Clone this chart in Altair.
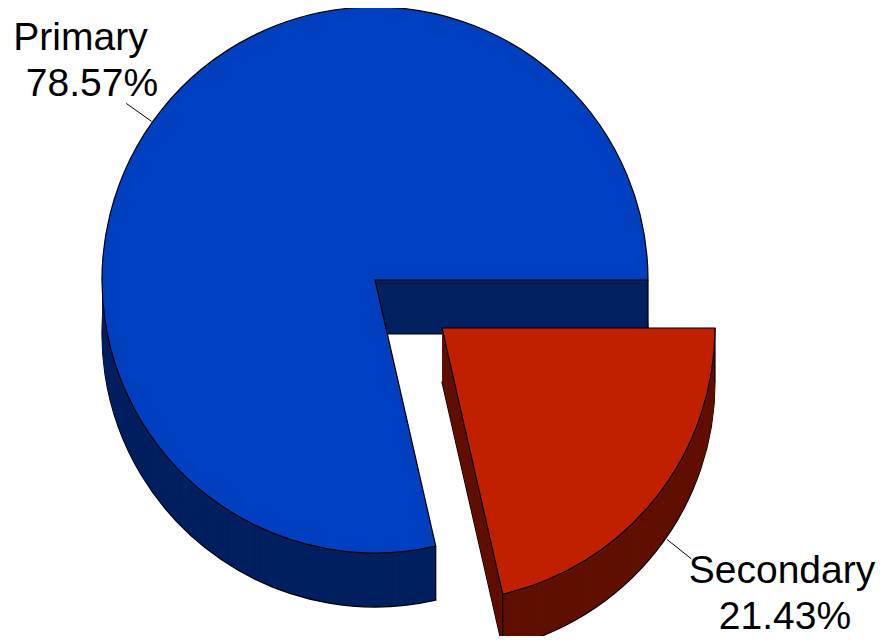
import math
import altair as alt
import pandas as pd

# ---- data ----
labels = ["Primary", "Secondary"]
values = [78.57, 21.43]

# ---- layout / style ----
W, H = 869, 628
CX, CY = 367, 272
R = 273
DEPTH = 54
EXPLODE = {"Primary": (0, 0), "Secondary": (67, 48)}
TOP = {"Primary": "#0040C0", "Secondary": "#C02000"}
SIDE = {"Primary": "#002060", "Secondary": "#601000"}
# label anchor: radius from slice centre, angle nudge (deg), x nudge of name line, x nudge of pct line
LABEL = {"Primary": (369, 0.0, -6, 5.5), "Secondary": (426.2, -1.82, -1.5, 1.5)}
# leader: angle nudge (deg), extra start radius, length, vertical offset
LEADER = {"Primary": (-3.2, 1, 31, 0), "Secondary": (0.0, 15, 31, 32)}
FONT = "Liberation Sans"
FONT_SIZE = 39
LINE_H = 46

total = sum(values)
acc = 0.0
rows = []
for lab in ["Secondary", "Primary"]:
    v = values[labels.index(lab)]
    start = math.pi / 2 + 2 * math.pi * acc / total
    acc += v
    end = math.pi / 2 + 2 * math.pi * acc / total
    mid = (start + end) / 2
    ex, ey = EXPLODE[lab]
    lr, lda, ndx, pdx = LABEL[lab]
    dth, ls, ll, lyo = LEADER[lab]
    rows.append(dict(label=lab, value=v, start=start, end=end, mid=mid,
                     cx=CX + ex, cy=CY + ey, top=TOP[lab], side=SIDE[lab],
                     lr=lr, la=mid + math.radians(lda), ndx=ndx, pdx=pdx,
                     lth=mid + math.radians(dth), ls=ls, ll=ll, lyo=lyo))
slices = pd.DataFrame(rows)

side_rows = []
for d in range(DEPTH - 1, 0, -1):
    for r in rows:
        side_rows.append({**r, "yy": r["cy"] + d})
sides = pd.DataFrame(side_rows)


def arc_layer(df, ycol, fillcol, stroke, transform=None):
    kw = dict(radius=R)
    if stroke:
        kw.update(stroke="black", strokeWidth=1.2)
    else:
        kw.update(strokeWidth=0)
    c = alt.Chart(df)
    if transform:
        c = c.transform_calculate(**transform)
    return c.mark_arc(**kw).encode(
        x=alt.X("cx:Q", scale=None),
        y=alt.Y(ycol + ":Q", scale=None),
        theta=alt.Theta("start:Q", scale=None),
        theta2=alt.Theta2("end:Q"),
        fill=alt.Fill(fillcol + ":N", scale=None),
    )


bottom = arc_layer(slices, "yb", "side", True, {"yb": f"datum.cy + {DEPTH}"})
side_fill = arc_layer(sides, "yy", "side", False)
tops = arc_layer(slices, "cy", "top", True)

edges = alt.Chart(slices).transform_fold(
    ["start", "end"], as_=["edge", "ang"]
).transform_calculate(
    ex=f"datum.cx + {R}*sin(datum.ang)",
    ey=f"datum.cy - {R}*cos(datum.ang)",
    ey2=f"datum.cy - {R}*cos(datum.ang) + {DEPTH}",
).mark_rule(color="black", strokeWidth=1.2).encode(
    x=alt.X("ex:Q", scale=None),
    y=alt.Y("ey:Q", scale=None),
    y2=alt.Y2("ey2:Q"),
)

leaders = alt.Chart(slices).transform_calculate(
    lx=f"datum.cx + ({R} + datum.ls)*sin(datum.lth)",
    ly=f"datum.cy - ({R} + datum.ls)*cos(datum.lth) + datum.lyo",
).transform_calculate(
    lx2="datum.lx + datum.ll*sin(datum.lth)",
    ly2="datum.ly - datum.ll*cos(datum.lth)",
).mark_rule(color="black", strokeWidth=1).encode(
    x=alt.X("lx:Q", scale=None),
    y=alt.Y("ly:Q", scale=None),
    x2=alt.X2("lx2:Q"),
    y2=alt.Y2("ly2:Q"),
)

text_base = alt.Chart(slices).transform_calculate(
    tx="datum.cx + datum.lr*sin(datum.la)",
    ty="datum.cy - datum.lr*cos(datum.la)",
    pct="format(datum.value, '.2f') + '%'",
).transform_calculate(
    nx="datum.tx + datum.ndx",
    px="datum.tx + datum.pdx",
    py=f"datum.ty + {LINE_H}",
)
text_kw = dict(font=FONT, fontSize=FONT_SIZE, align="center",
               baseline="alphabetic", color="black")
name_text = text_base.mark_text(**text_kw).encode(
    x=alt.X("nx:Q", scale=None), y=alt.Y("ty:Q", scale=None), text="label:N")
pct_text = text_base.mark_text(**text_kw).encode(
    x=alt.X("px:Q", scale=None), y=alt.Y("py:Q", scale=None), text="pct:N")

chart = alt.layer(bottom, side_fill, edges, tops, leaders, name_text, pct_text).properties(
    width=W, height=H, padding=0,
    autosize=alt.AutoSizeParams(type="none"),
    background="white",
).configure_view(strokeWidth=0)

chart.save("out.html", embed_options={"renderer": "svg", "actions": False})
